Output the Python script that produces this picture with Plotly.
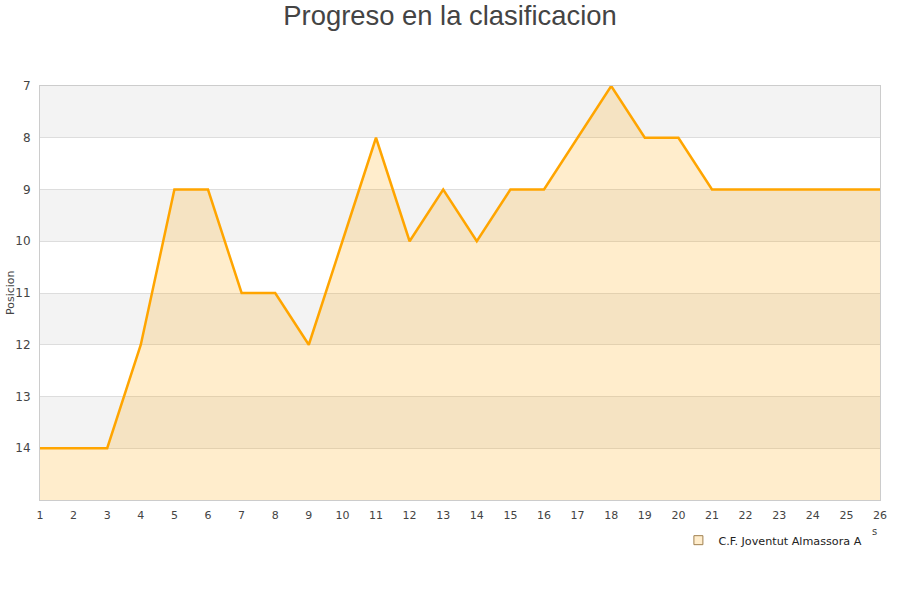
import plotly.graph_objects as go

jornadas = list(range(1, 27))
posiciones = [14, 14, 14, 12, 9, 9, 11, 11, 12, 10, 8, 10, 9, 10, 9, 9, 8, 7, 8, 8, 9, 9, 9, 9, 9, 9]
team = "C.F. Joventut Almassora A"
y_ticks = [7, 8, 9, 10, 11, 12, 13, 14]
y_top, y_bottom = 7, 15

fig = go.Figure()

# baseline for fill
fig.add_trace(go.Scatter(x=jornadas, y=[y_bottom] * len(jornadas), mode="lines",
                         line=dict(width=0), showlegend=False, hoverinfo="skip"))
fig.add_trace(go.Scatter(x=jornadas, y=posiciones, mode="lines", fill="tonexty",
                         fillcolor="rgba(255,165,0,0.2)",
                         line=dict(color="#FFA500", width=2.5), showlegend=False, name=team))
# legend entry
fig.add_trace(go.Scatter(x=[None], y=[None], mode="markers", name=team,
                         marker=dict(symbol="square", size=9, color="#FFEDCC",
                                     line=dict(color="#A08050", width=1))))

shapes = []
for v in range(y_top, y_bottom):
    if (v - y_top) % 2 == 0:
        shapes.append(dict(type="rect", xref="paper", yref="y", x0=0, x1=1, y0=v, y1=v + 1,
                           fillcolor="#F3F3F3", line=dict(width=0), layer="below"))

fig.update_layout(
    width=900, height=600,
    margin=dict(l=40, r=20, t=86, b=100),
    paper_bgcolor="white", plot_bgcolor="white",
    title=dict(text="Progreso en la clasificacion", x=0.5, xanchor="center", y=0.975, yanchor="middle",
               font=dict(family="Liberation Sans, Arial", size=27.4, color="#444444")),
    font=dict(family="DejaVu Sans", size=11, color="#444444"),
    shapes=shapes,
    showlegend=True,
    legend=dict(orientation="h", x=0.760, xanchor="left", y=-0.097, yanchor="middle",
                font=dict(family="DejaVu Sans", size=11.2, color="#222222"), bgcolor="rgba(0,0,0,0)"),
    annotations=[
        dict(text="s", xref="paper", yref="paper", x=0.994, y=-0.077, showarrow=False,
             xanchor="center", yanchor="middle",
             font=dict(size=10, color="#444444")),
        dict(text="Posicion", xref="paper", yref="paper", x=-0.0357, y=0.5, textangle=-90,
             showarrow=False, xanchor="center", yanchor="middle",
             font=dict(size=11, color="#444444")),
    ],
)
fig.update_xaxes(range=[1, 26], tickvals=jornadas, ticks="", showgrid=False, zeroline=False,
                 showline=True, linecolor="#CCCCCC", linewidth=1, mirror=True, automargin=False,
                 ticklabelstandoff=5, tickfont=dict(size=11, color="#444444"))
fig.update_yaxes(range=[y_bottom, y_top], tickvals=y_ticks, showgrid=True, gridcolor="#DDDDDD",
                 zeroline=False, showline=True, linecolor="#CCCCCC", linewidth=1, mirror=True,
                 ticks="", ticklabelstandoff=6, automargin=False,
                 tickfont=dict(size=12, color="#444444"))

fig.write_html("out.html", config={"displayModeBar": False},
               post_script="document.body.style.margin='0';")
